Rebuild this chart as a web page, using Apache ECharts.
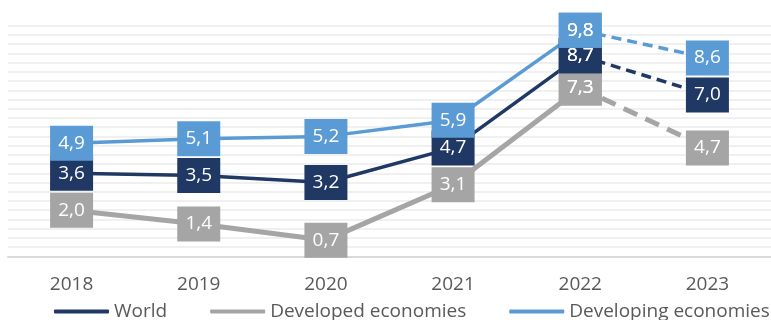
<!DOCTYPE html>
<html>
<head>
<meta charset="utf-8">
<script src="https://cdn.jsdelivr.net/npm/echarts@6/dist/echarts.min.js"></script>
<style>html,body{margin:0;padding:0;background:#fff}#c{width:771px;height:320px}</style>
</head>
<body>
<div id="c"></div>
<script>
const years = ['2018', '2019', '2020', '2021', '2022', '2023'];
const world = [3.6, 3.5, 3.2, 4.7, 8.7, 7.0];
const developed = [2.0, 1.4, 0.7, 3.1, 7.3, 4.7];
const developing = [4.9, 5.1, 5.2, 5.9, 9.8, 8.6];
const seriesNames = ['World', 'Developed economies', 'Developing economies'];
const forecastFrom = 4; // index where the dashed (forecast) segment starts

const FONT = '"Open Sans", sans-serif';
const colors = { world: '#1F3864', developed: '#A5A5A5', developing: '#5B9BD5' };

function split(arr) {
  const solid = arr.map((v, i) => i <= forecastFrom ? v : '-');
  const dashed = arr.map((v, i) => i >= forecastFrom ? v : '-');
  return [solid, dashed];
}
function fmt(p) { return Number(p.value).toFixed(1).replace('.', ','); }

function makeSeries(name, arr, color, width, dash) {
  const [solid, dashed] = split(arr);
  const common = {
    name: name,
    type: 'line',
    symbol: 'rect',
    symbolSize: [43, 35],
    showSymbol: true,
    itemStyle: { color: color },
    label: { show: true, position: 'inside', color: '#fff', fontSize: 19, fontFamily: FONT, formatter: fmt },
    emphasis: { disabled: true },
    animation: false
  };
  return [
    Object.assign({}, common, { data: solid, lineStyle: { color: color, width: width, type: 'solid' } }),
    Object.assign({}, common, { data: dashed, lineStyle: { color: color, width: width, type: dash } })
  ];
}

const series = [].concat(
  makeSeries(seriesNames[1], developed, colors.developed, 5, [15, 9]),
  makeSeries(seriesNames[0], world, colors.world, 3.5, [10, 6]),
  makeSeries(seriesNames[2], developing, colors.developing, 3.5, [10, 6])
);

const chart = echarts.init(document.getElementById('c'), null, { renderer: 'canvas' });
chart.setOption({
  animation: false,
  backgroundColor: '#fff',
  grid: { left: 8, right: -3, top: 25.7, bottom: 63.7, containLabel: false },
  legend: {
    data: [
      { name: seriesNames[0], itemStyle: { color: colors.world } },
      { name: seriesNames[1], itemStyle: { color: colors.developed } },
      { name: seriesNames[2], itemStyle: { color: colors.developing } }
    ],
    left: 49,
    top: 297,
    width: 900,
    orient: 'horizontal',
    icon: 'roundRect',
    itemWidth: 55,
    itemHeight: 4,
    itemGap: 43,
    textStyle: { color: '#595959', fontSize: 19, fontFamily: FONT },
    selectedMode: false
  },
  xAxis: {
    type: 'category',
    data: years,
    boundaryGap: true,
    axisLine: { show: true, lineStyle: { color: '#D9D9D9', width: 2 } },
    axisTick: { show: false },
    axisLabel: { color: '#595959', fontSize: 19, fontFamily: FONT, margin: 19 },
    splitLine: { show: false }
  },
  yAxis: {
    type: 'value',
    min: 0,
    max: 10,
    interval: 0.4,
    axisLine: { show: false },
    axisTick: { show: false },
    axisLabel: { show: false },
    splitLine: { show: true, lineStyle: { color: '#F0F0F0', width: 2 } }
  },
  series: series
});
</script>
</body>
</html>
